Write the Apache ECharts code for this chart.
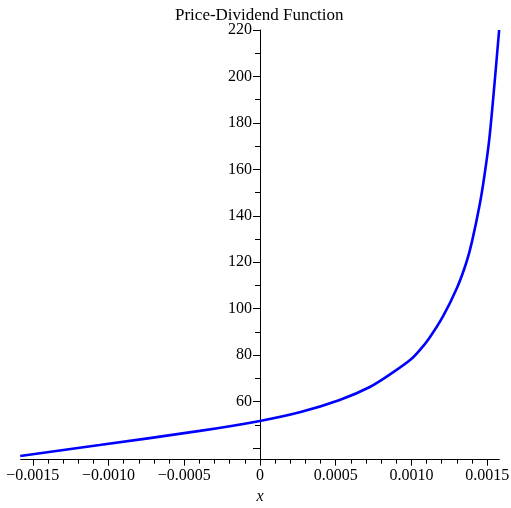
<!DOCTYPE html>
<html>
<head>
<meta charset="utf-8">
<script src="https://cdn.jsdelivr.net/npm/echarts@6/dist/echarts.min.js"></script>
<style>
  html, body { margin: 0; padding: 0; background: #fff; }
  #chart { width: 511px; height: 508px; }
</style>
</head>
<body>
<div id="chart"></div>
<script>
// Growth-rate deviation x and the resulting price-dividend ratio
const xValues = [-0.001583, -0.001059, -0.000398, 0, 0.000262, 0.000526, 0.000725, 0.000878,
  0.000993, 0.001055, 0.001116, 0.001209, 0.001301, 0.001363, 0.0014, 0.001451, 0.00148,
  0.001513, 0.001539, 0.001579];
const priceDividend = [36.6, 41.3, 47.4, 51.7, 55.4, 60.7, 66.3, 72.6,
  78.0, 82.2, 87.2, 96.8, 109.0, 120.0, 129.0, 145.0, 156.5,
  172.5, 190.0, 220];

// Tick marks
const xMajorTicks = [-0.0015, -0.001, -0.0005, 0, 0.0005, 0.001, 0.0015];
const xMinorTicks = [-0.0014, -0.0013, -0.0012, -0.0011, -0.0009, -0.0008, -0.0007, -0.0006,
  -0.0004, -0.0003, -0.0002, -0.0001, 0.0001, 0.0002, 0.0003, 0.0004,
  0.0006, 0.0007, 0.0008, 0.0009, 0.0011, 0.0012, 0.0013, 0.0014];
const yLabelTicks = [60, 80, 100, 120, 140, 160, 180, 200, 220];
const yMajorTicks = [40, 60, 80, 100, 120, 140, 160, 180, 200, 220];
const yMinorTicks = [50, 70, 90, 110, 130, 150, 170, 190, 210];

const X_MIN = -0.00158, X_MAX = 0.00158;
const Y_MIN = 35, Y_MAX = 220;

const GRID_LEFT = 20.7, GRID_RIGHT = 11.7, GRID_TOP = 30, GRID_BOTTOM = 48.3;
const CHART_W = 511;
// horizontal pixel position of x = 0 inside the plot, used to place the vertical axis there
const plotW = CHART_W - GRID_LEFT - GRID_RIGHT;
const zeroShift = (0 - X_MIN) / (X_MAX - X_MIN) * plotW;

const FONT = 'Liberation Serif';

function fmtX(v) {
  if (Math.abs(v) < 1e-12) return '0';
  return (v < 0 ? '\u2212' : '') + Math.abs(v).toFixed(4);
}

const chart = echarts.init(document.getElementById('chart'), null, { renderer: 'canvas' });

chart.setOption({
  animation: false,
  backgroundColor: '#ffffff',
  title: {
    text: 'Price-Dividend Function',
    left: 170,
    top: 2,
    textStyle: { fontFamily: FONT, fontSize: 17, fontWeight: 'normal', color: '#000' }
  },
  grid: {
    left: GRID_LEFT, right: GRID_RIGHT, top: GRID_TOP, bottom: GRID_BOTTOM,
    containLabel: false, outerBoundsMode: 'none'
  },
  xAxis: [
    {
      type: 'value', min: X_MIN, max: X_MAX, position: 'bottom',
      name: 'x', nameLocation: 'middle', nameGap: 28,
      nameTextStyle: { fontFamily: FONT, fontSize: 16, fontStyle: 'italic', color: '#000' },
      axisLine: { onZero: false, lineStyle: { color: '#000', width: 1 } },
      axisTick: { show: true, inside: false, length: 6, customValues: xMajorTicks, lineStyle: { color: '#000' } },
      axisLabel: { customValues: xMajorTicks, formatter: fmtX, margin: 8,
        fontFamily: FONT, fontSize: 16, color: '#000' },
      splitLine: { show: false }
    },
    {
      type: 'value', min: X_MIN, max: X_MAX, position: 'bottom',
      axisLine: { show: false, onZero: false },
      axisTick: { show: true, inside: false, length: 4, customValues: xMinorTicks, lineStyle: { color: '#000' } },
      axisLabel: { show: false },
      splitLine: { show: false }
    }
  ],
  yAxis: [
    {
      type: 'value', min: Y_MIN, max: Y_MAX, position: 'left', offset: -zeroShift,
      axisLine: { show: true, onZero: false, lineStyle: { color: '#000', width: 1 } },
      axisTick: { show: true, inside: false, length: 7, customValues: yMajorTicks, lineStyle: { color: '#000' } },
      axisLabel: { customValues: yLabelTicks, margin: 8,
        fontFamily: FONT, fontSize: 16, color: '#000' },
      splitLine: { show: false }
    },
    {
      type: 'value', min: Y_MIN, max: Y_MAX, position: 'left', offset: -zeroShift,
      axisLine: { show: false, onZero: false },
      axisTick: { show: true, inside: false, length: 5, customValues: yMinorTicks, lineStyle: { color: '#000' } },
      axisLabel: { show: false },
      splitLine: { show: false }
    }
  ],
  series: [{
    type: 'line',
    xAxisIndex: 0,
    yAxisIndex: 0,
    data: xValues.map((x, i) => [x, priceDividend[i]]),
    smooth: 0.3,
    showSymbol: false,
    symbol: 'none',
    clip: false,
    lineStyle: { color: '#0000ff', width: 2.6 }
  }]
});
</script>
</body>
</html>
